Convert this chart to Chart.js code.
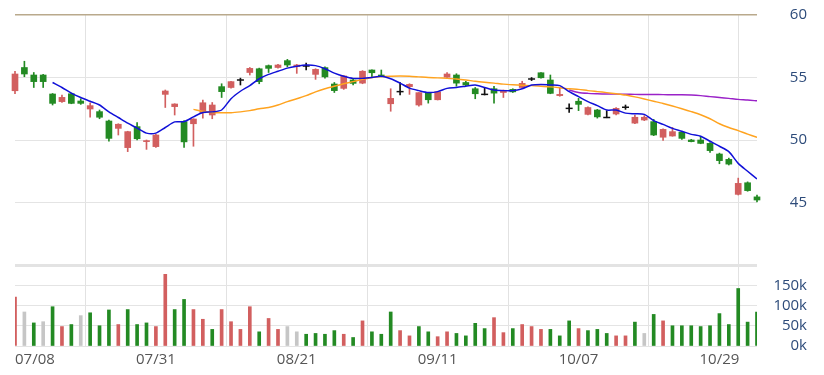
<!DOCTYPE html>
<html>
<head>
<meta charset="utf-8">
<script src="https://cdn.jsdelivr.net/npm/chart.js@4.4.1/dist/chart.umd.min.js"></script>
<style>
  html, body { margin: 0; padding: 0; background: #fff; }
  #wrap { position: relative; width: 824px; height: 375px; }
</style>
</head>
<body>
<div id="wrap"><canvas id="stockChart"></canvas></div>
<script>
// tick labels on the x axis, one every 15 sessions
const tickLabels = ['07/08', '07/31', '08/21', '09/11', '10/07', '10/29'];
const tickStep = 15;

const prevClose = 53.6;

const opens = [53.94, 55.8, 55.2, 55.2, 53.68, 53.07, 53.7, 53.12, 52.48, 52.27,
  51.52, 50.93, 49.39, 51.07, 49.87, 49.47, 53.65, 52.67, 51.47, 51.3,
  52.18, 52.0, 54.27, 54.2, 54.8, 55.4, 55.7, 55.95, 55.8, 56.35,
  55.87, 55.92, 55.25, 55.79, 54.48, 54.13, 54.8, 54.55, 55.6, 55.2,
  52.9, 53.87, 54.27, 52.8, 53.75, 53.22, 55.02, 55.2, 54.6, 54.1,
  53.65, 54.1, 53.8, 54.05, 54.2, 54.88, 55.38, 54.8, 53.55, 52.53,
  53.1, 52.05, 52.4, 51.8, 52.08, 52.62, 51.35, 51.6, 51.47, 50.22,
  50.32, 50.62, 50.0, 50.0, 49.73, 48.88, 48.45, 45.65, 46.58, 45.45];

const highs = [55.5, 56.3, 55.4, 55.25, 53.72, 53.6, 53.75, 53.3, 52.98, 52.4,
  51.6, 51.3, 50.7, 51.39, 50.0, 50.45, 54.0, 52.9, 51.55, 51.7,
  53.2, 53.0, 54.5, 54.7, 54.95, 55.8, 55.75, 56.0, 56.05, 56.45,
  56.05, 56.15, 55.7, 55.85, 54.6, 55.15, 54.9, 55.55, 55.62, 55.6,
  54.1, 54.6, 54.5, 53.8, 53.8, 53.9, 55.4, 55.3, 54.7, 54.2,
  54.2, 54.3, 54.0, 54.1, 54.7, 55.0, 55.4, 55.2, 54.2, 52.9,
  53.33, 52.65, 52.45, 52.35, 52.6, 52.8, 52.0, 51.95, 51.65, 50.9,
  51.0, 50.7, 50.05, 50.3, 49.8, 48.95, 48.55, 46.95, 46.65, 45.6];

const lows = [53.7, 55.06, 54.2, 54.2, 52.8, 53.0, 52.9, 52.85, 51.82, 51.7,
  49.9, 50.4, 49.07, 50.0, 49.25, 49.4, 52.6, 52.0, 49.4, 49.5,
  51.75, 51.7, 53.4, 54.15, 54.4, 55.2, 54.5, 55.4, 55.75, 55.85,
  55.33, 55.6, 54.85, 54.95, 53.8, 54.05, 54.4, 54.5, 55.0, 55.05,
  52.3, 53.6, 53.65, 52.7, 52.95, 53.2, 55.0, 54.3, 54.35, 53.3,
  53.6, 52.95, 53.4, 53.8, 54.15, 54.75, 54.95, 53.7, 53.5, 52.2,
  52.35, 52.0, 51.75, 51.78, 52.0, 52.45, 51.3, 51.55, 50.35, 49.97,
  50.3, 50.05, 49.85, 49.7, 49.0, 48.1, 48.0, 45.6, 45.9, 45.05];

const closes = [55.28, 55.28, 54.67, 54.67, 52.93, 53.41, 52.93, 52.93, 52.75, 51.82,
  50.13, 51.26, 50.67, 50.1, 49.95, 50.4, 53.92, 52.88, 49.85, 51.68,
  52.98, 52.8, 53.87, 54.67, 54.8, 55.73, 54.67, 55.73, 56.0, 56.0,
  56.0, 55.92, 55.65, 55.05, 53.95, 55.12, 54.53, 55.5, 55.38, 55.1,
  53.33, 53.87, 54.45, 53.79, 53.22, 53.85, 55.28, 54.55, 54.4, 53.7,
  53.65, 53.75, 53.98, 53.85, 54.53, 54.88, 54.98, 53.73, 53.65, 52.53,
  52.85, 52.6, 51.85, 51.8, 52.53, 52.62, 51.82, 51.82, 50.4, 50.85,
  50.67, 50.13, 49.87, 49.73, 49.15, 48.35, 48.07, 46.53, 45.95, 45.2];

// volume in thousands of shares
const volumes = [121, 84, 57, 60, 97, 48, 53, 75, 82, 50,
  89, 53, 90, 53, 57, 48, 177, 90, 115, 90,
  66, 41, 90, 60, 41, 97, 35, 68, 41, 48,
  35, 29, 31, 29, 38, 29, 21, 62, 35, 29,
  84, 38, 25, 48, 35, 23, 35, 31, 25, 56,
  43, 70, 33, 43, 53, 48, 41, 41, 25, 62,
  43, 38, 41, 31, 25, 25, 59, 31, 78, 62,
  50, 50, 50, 48, 50, 80, 53, 142, 59, 84];

// moving averages as drawn on the chart
const ma5 = [null, null, null, null, 54.6, 54.2, 53.75, 53.4, 53.1, 52.8,
  52.25, 51.8, 51.35, 50.95, 50.55, 50.55, 51.0, 51.45, 51.47, 51.85,
  52.2, 52.25, 52.4, 53.3, 53.9, 54.35, 54.9, 55.25, 55.5, 55.75,
  55.9, 56.0, 55.95, 55.7, 55.35, 55.1, 54.93, 54.93, 55.0, 55.1,
  54.9, 54.55, 54.15, 53.95, 53.8, 53.87, 54.13, 54.2, 54.3, 54.4,
  54.2, 54.0, 53.95, 53.95, 54.1, 54.4, 54.45, 54.4, 54.35, 53.87,
  53.47, 53.07, 52.75, 52.4, 52.4, 52.15, 52.1, 52.05, 51.55, 51.25,
  50.93, 50.7, 50.45, 50.3, 49.9, 49.5, 49.07, 48.13, 47.5, 46.88];

const ma20 = [null, null, null, null, null, null, null, null, null, null,
  null, null, null, null, null, null, null, null, null, 52.45,
  52.3, 52.2, 52.18, 52.18, 52.25, 52.35, 52.5, 52.6, 52.8, 53.07,
  53.3, 53.55, 53.85, 54.1, 54.3, 54.5, 54.67, 54.85, 55.0, 55.07,
  55.1, 55.12, 55.1, 55.05, 55.0, 54.97, 54.93, 54.88, 54.8, 54.7,
  54.62, 54.55, 54.47, 54.42, 54.38, 54.35, 54.3, 54.25, 54.18, 54.1,
  54.05, 53.95, 53.87, 53.79, 53.7, 53.6, 53.45, 53.28, 53.1, 52.92,
  52.72, 52.5, 52.27, 52.02, 51.7, 51.3, 51.0, 50.75, 50.47, 50.21];

const ma60 = Array(59).fill(null).concat([54.0,
  53.8, 53.73, 53.7, 53.68, 53.67, 53.66, 53.65, 53.65, 53.64, 53.63,
  53.62, 53.62, 53.6, 53.55, 53.47, 53.4, 53.33, 53.25, 53.2, 53.13]);

const RED = '#d25f5f';
const GREEN = '#238a23';
const DOJI = '#111111';
const FLAT = '#c6c6c6';

const candleColor = i => closes[i] > opens[i] ? RED : (closes[i] < opens[i] ? GREEN : DOJI);
const volColor = i => {
  const p = i === 0 ? prevClose : closes[i - 1];
  return closes[i] > p ? RED : (closes[i] < p ? GREEN : FLAT);
};

const idx = closes.map((_, i) => i);
const bodyIdx = idx.filter(i => opens[i] !== closes[i]);
const dojiIdx = idx.filter(i => opens[i] === closes[i]);

const xLabels = {
  id: 'xLabels',
  afterDraw(chart) {
    const { ctx, chartArea, scales: { x } } = chart;
    ctx.save();
    ctx.font = '15px "Open Sans"';
    ctx.fillStyle = '#555555';
    ctx.textBaseline = 'middle';
    tickLabels.forEach((t, i) => {
      ctx.textAlign = i === 0 ? 'left' : 'center';
      ctx.fillText(t, x.getPixelForValue(i * tickStep), chartArea.bottom + 14);
    });
    ctx.restore();
  }
};

// both right axes share one column, labels flush right
const fixAxis = s => {
  s.width = 50;
  s.paddingTop = 0;
  s.paddingBottom = 0;
};

const maLine = (data, color) => ({
  type: 'line',
  data: data.map((v, i) => ({ x: i, y: v })),
  borderColor: color,
  borderWidth: 1.5,
  pointRadius: 0,
  tension: 0.25,
  yAxisID: 'y',
  order: 0
});

new Chart(document.getElementById('stockChart'), {
  type: 'bar',
  data: {
    datasets: [
      maLine(ma5, '#1010d8'),
      maLine(ma20, '#ffa31f'),
      maLine(ma60, '#9a22c8'),
      {
        type: 'line',
        data: dojiIdx.map(i => ({ x: i, y: closes[i] })),
        showLine: false,
        pointStyle: 'line',
        pointRadius: 3.5,
        pointBorderColor: DOJI,
        pointBorderWidth: 1.5,
        yAxisID: 'y',
        order: 1,
        clip: false
      },
      {
        data: bodyIdx.map(i => ({ x: i, y: [opens[i], closes[i]] })),
        backgroundColor: bodyIdx.map(candleColor),
        barThickness: 6,
        grouped: false,
        yAxisID: 'y',
        order: 2,
        clip: false
      },
      {
        data: idx.map(i => ({ x: i, y: [lows[i], highs[i]] })),
        backgroundColor: idx.map(candleColor),
        barThickness: 1,
        grouped: false,
        yAxisID: 'y',
        order: 3,
        clip: false
      },
      {
        data: idx.map(i => ({ x: i, y: volumes[i] })),
        backgroundColor: idx.map(volColor),
        barThickness: 3,
        grouped: false,
        yAxisID: 'yv',
        order: 4
      }
    ]
  },
  options: {
    responsive: true,
    maintainAspectRatio: false,
    animation: false,
    layout: { padding: { top: 15, left: 15, right: 17, bottom: 29 } },
    plugins: { legend: { display: false }, tooltip: { enabled: false } },
    scales: {
      x: {
        type: 'linear',
        min: 0,
        max: closes.length - 1,
        offset: false,
        ticks: { display: false, stepSize: tickStep },
        grid: { color: '#e2e2e2', drawTicks: false },
        border: { display: false }
      },
      y: {
        position: 'right',
        stack: 'panels',
        stackWeight: 250,
        min: 40,
        max: 60,
        afterFit: fixAxis,
        ticks: {
          stepSize: 5,
          autoSkip: false,
          callback: v => v === 40 ? '' : v,
          color: '#2d4b7a',
          font: { family: 'Open Sans', size: 15 },
          crossAlign: 'far',
          padding: 33
        },
        grid: {
          drawTicks: false,
          color: c => c.tick.value === 60 ? '#b9a98c' : (c.tick.value === 40 ? '#e3e3e3' : '#e4e4e4'),
          lineWidth: c => c.tick.value === 40 ? 3 : (c.tick.value === 60 ? 1.5 : 1)
        },
        border: { display: false }
      },
      yv: {
        position: 'right',
        stack: 'panels',
        stackWeight: 81,
        min: 0,
        max: 200,
        afterFit: fixAxis,
        ticks: {
          stepSize: 50,
          autoSkip: false,
          callback: v => v === 200 ? '' : v + 'k',
          color: '#2d4b7a',
          font: { family: 'Open Sans', size: 15 },
          crossAlign: 'far',
          padding: 16
        },
        grid: {
          drawTicks: false,
          color: c => c.tick.value === 200 ? 'rgba(0,0,0,0)' : '#e4e4e4'
        },
        border: { display: false }
      }
    }
  },
  plugins: [xLabels]
});
</script>
</body>
</html>
